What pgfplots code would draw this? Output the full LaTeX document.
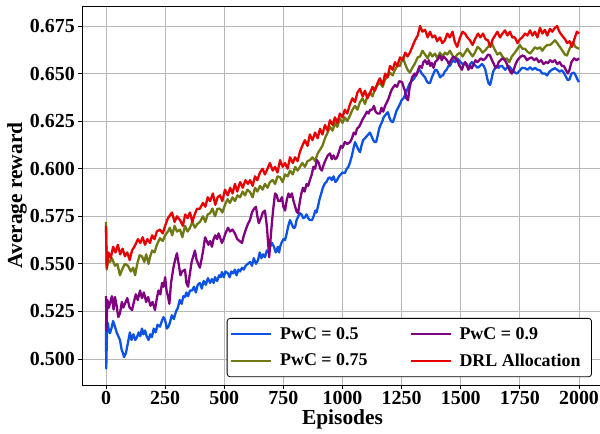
\documentclass[border=0pt]{standalone}
\usepackage{fontspec}
\setmainfont{Liberation Serif}
\usepackage{pgfplots}
\pgfplotsset{compat=1.18}
\definecolor{blueC}{RGB}{12,82,228}
\definecolor{oliveC}{RGB}{112,120,18}
\definecolor{purpleC}{RGB}{128,0,128}
\definecolor{redC}{RGB}{232,0,0}
\begin{document}
\begin{tikzpicture}
\begin{axis}[
  scale only axis,
  width=520.3bp, height=379bp,
  xmin=-100, xmax=2100,
  ymin=0.48635, ymax=0.6855,
  xtick={0,250,...,2000},
  ytick={0.5,0.525,0.55,0.575,0.6,0.625,0.65,0.675},
  yticklabel style={/pgf/number format/fixed,/pgf/number format/precision=3,/pgf/number format/fixed zerofill},
  xticklabel style={/pgf/number format/1000 sep={}, yshift=1.5bp},
  /pgf/number format/assume math mode=true,
  tick label style={font=\fontsize{20}{22}\selectfont\bfseries},
  label style={font=\fontsize{21.5}{24}\selectfont\bfseries},
  xlabel={Episodes},
  ylabel={Average reward},
  xlabel style={at={(axis description cs:0.5,-0.09)}, anchor=center, inner sep=0bp},
  ylabel style={at={(axis description cs:-0.1255,0.5)}, anchor=center},
  grid=major,
  major grid style={color=black!28, line width=0.8bp},
  axis line style={black, line width=0.9bp},
  tick align=outside,
  major tick length=4bp,
  tick style={black, line width=0.8bp},
  xtick pos=bottom, ytick pos=left,
  legend columns=2,
  transpose legend,
  legend cell align=left,
  legend image code/.code={\draw[#1, line width=2bp] (0bp,0bp) -- (40bp,0bp);},
  legend style={at={(axis description cs:0.9795,0.1768)}, anchor=north east,
    draw=black, rounded corners=3bp, line width=0.8bp,
    font=\fontsize{18}{20}\selectfont\bfseries,
    /tikz/every even column/.append style={column sep=34bp},
    inner xsep=3bp, inner ysep=2.5bp,
    nodes={inner xsep=8bp, inner ysep=6.5bp}},
  every axis plot/.append style={line width=2.3bp, line join=round},
]
\addplot[blueC] coordinates {
(0,0.519)(1,0.495)(4,0.513)(8,0.519)(12,0.515)(17,0.5136)(25,0.517)(30,0.520)(38,0.517)(45,0.514)(52,0.512)(59,0.510)(66,0.505)(72,0.503)(76,0.501)(84,0.503)(92,0.508)(101,0.514)(108,0.510)(116,0.513)(124,0.510)(131,0.5115)(138,0.514)(145,0.512)(152,0.516)(158,0.513)(165,0.515)(172,0.512)(180,0.510)(187,0.513)(194,0.5115)(202,0.516)(210,0.514)(218,0.518)(228,0.517)(236,0.520)(243,0.522)(250,0.5205)(257,0.516)(264,0.517)(270,0.519)(278,0.523)(287,0.521)(296,0.525)(304,0.527)(312,0.531)(320,0.529)(327,0.533)(334,0.5326)(340,0.535)(347,0.533)(355,0.536)(364,0.536)(372,0.538)(380,0.535)(388,0.539)(397,0.540)(405,0.537)(413,0.541)(422,0.539)(431,0.5425)(440,0.540)(448,0.542)(455,0.540)(461,0.543)(470,0.541)(478,0.544)(485,0.543)(490,0.5457)(498,0.543)(505,0.546)(516,0.545)(523,0.543)(530,0.546)(538,0.545)(545,0.547)(552,0.544)(560,0.547)(567,0.546)(575,0.548)(583,0.547)(590,0.549)(600,0.550)(609,0.551)(617,0.549)(625,0.553)(634,0.550)(643,0.552)(650,0.556)(657,0.553)(664,0.555)(672,0.5535)(680,0.557)(688,0.556)(694,0.559)(702,0.561)(710,0.559)(718,0.556)(727,0.559)(732,0.556)(736,0.559)(742,0.561)(750,0.563)(757,0.5625)(764,0.566)(771,0.570)(778,0.573)(785,0.571)(792,0.569)(799,0.569)(806,0.573)(813,0.575)(820,0.5766)(827,0.576)(834,0.574)(841,0.5745)(848,0.576)(855,0.574)(862,0.573)(871,0.573)(878,0.575)(885,0.578)(890,0.577)(896,0.580)(903,0.584)(910,0.587)(917,0.590)(926,0.5924)(932,0.593)(940,0.595)(947,0.5955)(955,0.594)(962,0.596)(970,0.593)(977,0.594)(985,0.596)(993,0.597)(1000,0.598)(1010,0.5977)(1018,0.600)(1025,0.601)(1032,0.6034)(1040,0.607)(1047,0.611)(1053,0.614)(1060,0.612)(1067,0.610)(1074,0.6087)(1080,0.612)(1087,0.615)(1095,0.616)(1102,0.617)(1109,0.618)(1116,0.619)(1123,0.617)(1130,0.615)(1136,0.614)(1142,0.614)(1148,0.617)(1155,0.621)(1161,0.623)(1167,0.6245)(1174,0.627)(1180,0.628)(1186,0.629)(1192,0.6297)(1198,0.627)(1205,0.625)(1213,0.6245)(1220,0.627)(1227,0.630)(1235,0.632)(1243,0.634)(1250,0.636)(1258,0.637)(1264,0.6386)(1272,0.641)(1278,0.643)(1285,0.645)(1292,0.646)(1300,0.647)(1306,0.648)(1313,0.650)(1320,0.651)(1328,0.6517)(1335,0.650)(1342,0.649)(1349,0.648)(1356,0.646)(1364,0.645)(1370,0.645)(1378,0.648)(1385,0.650)(1392,0.652)(1399,0.6517)(1406,0.650)(1413,0.648)(1420,0.649)(1425,0.649)(1432,0.651)(1440,0.652)(1448,0.654)(1454,0.654)(1462,0.656)(1470,0.657)(1477,0.656)(1484,0.658)(1492,0.657)(1500,0.656)(1508,0.655)(1518,0.6555)(1525,0.654)(1532,0.653)(1540,0.655)(1547,0.656)(1555,0.655)(1563,0.654)(1571,0.653)(1581,0.654)(1590,0.655)(1597,0.654)(1604,0.652)(1611,0.648)(1617,0.645)(1624,0.644)(1630,0.647)(1637,0.651)(1645,0.6528)(1652,0.654)(1660,0.653)(1667,0.654)(1674,0.654)(1681,0.653)(1688,0.652)(1695,0.653)(1702,0.654)(1708,0.6533)(1716,0.652)(1723,0.651)(1730,0.6505)(1738,0.650)(1745,0.651)(1752,0.652)(1760,0.653)(1772,0.6528)(1782,0.652)(1793,0.6533)(1803,0.652)(1814,0.653)(1824,0.652)(1835,0.6517)(1845,0.650)(1856,0.650)(1865,0.649)(1875,0.651)(1885,0.652)(1898,0.6528)(1908,0.652)(1918,0.651)(1928,0.6517)(1938,0.650)(1946,0.648)(1953,0.6465)(1960,0.647)(1968,0.650)(1979,0.6505)(1986,0.649)(1993,0.647)(2000,0.6455)
};
\addlegendentry{PwC = 0.5}
\addplot[oliveC] coordinates {
(0,0.572)(3,0.547)(10,0.552)(17,0.551)(25,0.553)(38,0.549)(48,0.550)(59,0.544)(68,0.547)(80,0.550)(93,0.549)(105,0.546)(115,0.548)(123,0.544)(132,0.550)(142,0.5545)(152,0.554)(162,0.551)(170,0.555)(180,0.550)(186,0.5535)(195,0.557)(205,0.556)(215,0.560)(228,0.5635)(240,0.562)(250,0.565)(262,0.567)(270,0.569)(280,0.565)(290,0.570)(300,0.567)(313,0.568)(323,0.564)(334,0.570)(345,0.567)(355,0.569)(365,0.572)(376,0.569)(386,0.571)(397,0.572)(410,0.575)(420,0.572)(430,0.576)(440,0.5766)(450,0.579)(461,0.575)(471,0.579)(482,0.579)(492,0.577)(503,0.581)(514,0.584)(524,0.582)(535,0.585)(545,0.583)(556,0.586)(567,0.585)(578,0.588)(588,0.586)(598,0.589)(609,0.5877)(620,0.585)(630,0.590)(640,0.588)(651,0.591)(662,0.589)(672,0.592)(683,0.590)(693,0.593)(705,0.594)(715,0.592)(725,0.596)(736,0.5955)(747,0.593)(757,0.597)(768,0.596)(778,0.599)(790,0.597)(800,0.601)(810,0.599)(820,0.601)(830,0.603)(841,0.601)(852,0.604)(862,0.6045)(873,0.606)(884,0.604)(895,0.608)(905,0.610)(915,0.612)(926,0.616)(937,0.619)(947,0.622)(958,0.620)(968,0.624)(978,0.622)(989,0.6265)(1000,0.624)(1010,0.627)(1020,0.625)(1032,0.628)(1042,0.631)(1053,0.633)(1063,0.631)(1074,0.635)(1085,0.637)(1095,0.634)(1105,0.638)(1116,0.640)(1127,0.638)(1137,0.642)(1148,0.644)(1158,0.645)(1170,0.643)(1180,0.647)(1190,0.648)(1201,0.6505)(1212,0.649)(1222,0.652)(1232,0.654)(1243,0.654)(1255,0.6585)(1265,0.655)(1275,0.652)(1285,0.6505)(1295,0.653)(1305,0.655)(1318,0.6585)(1328,0.659)(1338,0.662)(1349,0.660)(1360,0.658)(1370,0.661)(1380,0.659)(1391,0.6605)(1401,0.658)(1412,0.661)(1422,0.659)(1433,0.661)(1443,0.660)(1454,0.662)(1465,0.6595)(1475,0.658)(1485,0.660)(1497,0.661)(1508,0.659)(1518,0.661)(1528,0.663)(1539,0.661)(1550,0.659)(1560,0.661)(1571,0.664)(1581,0.663)(1592,0.661)(1602,0.662)(1615,0.664)(1632,0.6657)(1642,0.663)(1655,0.660)(1666,0.661)(1676,0.659)(1687,0.6575)(1695,0.658)(1705,0.656)(1716,0.659)(1729,0.661)(1740,0.663)(1750,0.665)(1761,0.663)(1772,0.663)(1782,0.6615)(1793,0.6605)(1803,0.662)(1814,0.6638)(1824,0.663)(1835,0.6638)(1845,0.662)(1856,0.664)(1866,0.665)(1877,0.665)(1887,0.666)(1898,0.6675)(1908,0.666)(1920,0.6638)(1930,0.662)(1940,0.660)(1949,0.6595)(1960,0.663)(1974,0.6665)(1985,0.664)(2000,0.663)
};
\addlegendentry{PwC = 0.75}
\addplot[purpleC] coordinates {
(0,0.533)(2,0.515)(6,0.531)(12,0.527)(17,0.5294)(25,0.533)(32,0.526)(38,0.5326)(45,0.528)(52,0.522)(59,0.524)(67,0.530)(73,0.527)(80,0.529)(90,0.532)(100,0.527)(110,0.5257)(118,0.530)(126,0.534)(134,0.531)(144,0.536)(152,0.532)(160,0.535)(170,0.530)(178,0.5326)(188,0.528)(197,0.530)(207,0.5257)(215,0.532)(222,0.536)(230,0.534)(237,0.540)(244,0.538)(250,0.543)(256,0.536)(262,0.533)(268,0.529)(275,0.540)(285,0.548)(292,0.552)(300,0.5556)(307,0.550)(315,0.544)(322,0.546)(334,0.547)(340,0.540)(347,0.538)(355,0.545)(362,0.551)(369,0.554)(376,0.557)(383,0.552)(390,0.550)(397,0.548)(405,0.553)(412,0.558)(419,0.564)(426,0.562)(433,0.560)(440,0.562)(448,0.559)(455,0.563)(462,0.565)(470,0.563)(476,0.566)(482,0.564)(490,0.561)(497,0.563)(505,0.566)(516,0.569)(524,0.567)(535,0.568)(545,0.566)(555,0.563)(565,0.562)(575,0.561)(583,0.565)(591,0.568)(600,0.571)(609,0.573)(617,0.577)(626,0.579)(634,0.580)(640,0.575)(646,0.5714)(655,0.574)(663,0.577)(672,0.578)(680,0.570)(685,0.562)(690,0.5535)(697,0.565)(704,0.575)(710,0.582)(715,0.587)(722,0.586)(728,0.583)(736,0.583)(744,0.585)(750,0.580)(757,0.578)(765,0.584)(772,0.587)(778,0.585)(786,0.587)(793,0.583)(800,0.580)(806,0.5775)(812,0.5766)(820,0.583)(826,0.587)(833,0.590)(840,0.588)(848,0.592)(855,0.591)(862,0.594)(870,0.597)(877,0.601)(884,0.600)(892,0.6045)(900,0.603)(906,0.600)(913,0.599)(920,0.602)(930,0.605)(938,0.607)(947,0.608)(955,0.605)(962,0.607)(970,0.605)(977,0.606)(985,0.609)(993,0.612)(1000,0.611)(1010,0.614)(1020,0.613)(1032,0.614)(1040,0.616)(1048,0.619)(1055,0.618)(1061,0.621)(1070,0.622)(1078,0.624)(1085,0.626)(1095,0.628)(1103,0.630)(1110,0.629)(1117,0.631)(1125,0.631)(1133,0.633)(1140,0.630)(1148,0.629)(1158,0.629)(1165,0.632)(1172,0.630)(1180,0.633)(1188,0.635)(1195,0.637)(1203,0.640)(1210,0.642)(1222,0.644)(1230,0.643)(1240,0.646)(1252,0.6455)(1258,0.643)(1264,0.641)(1270,0.637)(1277,0.636)(1283,0.642)(1290,0.646)(1294,0.648)(1305,0.650)(1312,0.649)(1319,0.6517)(1326,0.654)(1335,0.653)(1342,0.656)(1349,0.657)(1358,0.655)(1365,0.657)(1371,0.654)(1378,0.6555)(1385,0.653)(1392,0.656)(1400,0.657)(1405,0.658)(1412,0.6595)(1420,0.657)(1428,0.659)(1435,0.658)(1442,0.657)(1450,0.655)(1458,0.657)(1466,0.6585)(1475,0.6585)(1485,0.657)(1495,0.654)(1505,0.652)(1510,0.654)(1518,0.656)(1525,0.655)(1532,0.652)(1540,0.654)(1547,0.6528)(1555,0.655)(1562,0.657)(1570,0.656)(1578,0.657)(1585,0.658)(1595,0.657)(1605,0.658)(1615,0.660)(1624,0.6595)(1632,0.657)(1640,0.655)(1647,0.653)(1653,0.6533)(1660,0.656)(1668,0.657)(1676,0.658)(1687,0.657)(1695,0.655)(1702,0.653)(1709,0.651)(1716,0.650)(1724,0.652)(1732,0.655)(1740,0.657)(1750,0.6585)(1760,0.6595)(1770,0.659)(1780,0.657)(1790,0.658)(1800,0.6585)(1810,0.657)(1820,0.658)(1830,0.656)(1840,0.657)(1850,0.655)(1860,0.656)(1869,0.6555)(1878,0.657)(1888,0.656)(1898,0.657)(1908,0.655)(1918,0.656)(1928,0.654)(1936,0.654)(1944,0.652)(1953,0.650)(1960,0.652)(1968,0.656)(1979,0.658)(1990,0.657)(2000,0.658)
};
\addlegendentry{PwC = 0.9}
\addplot[redC] coordinates {
(0,0.570)(3,0.548)(10,0.556)(20,0.553)(30,0.559)(40,0.556)(50,0.560)(60,0.555)(70,0.558)(80,0.554)(90,0.556)(100,0.552)(110,0.557)(120,0.559)(135,0.563)(145,0.561)(155,0.564)(165,0.560)(175,0.563)(186,0.561)(195,0.565)(205,0.563)(215,0.567)(228,0.568)(240,0.566)(250,0.570)(262,0.574)(279,0.577)(290,0.572)(300,0.575)(313,0.573)(325,0.570)(335,0.576)(345,0.574)(355,0.577)(365,0.572)(375,0.576)(385,0.579)(397,0.579)(410,0.582)(420,0.580)(430,0.585)(440,0.583)(452,0.587)(462,0.581)(472,0.585)(482,0.586)(492,0.583)(503,0.589)(515,0.586)(525,0.590)(535,0.587)(545,0.592)(555,0.588)(567,0.593)(578,0.590)(590,0.594)(600,0.592)(609,0.594)(620,0.591)(630,0.596)(640,0.594)(651,0.598)(662,0.600)(672,0.597)(683,0.600)(693,0.603)(705,0.599)(715,0.601)(725,0.598)(736,0.6045)(747,0.601)(757,0.603)(768,0.600)(778,0.606)(790,0.603)(799,0.606)(810,0.604)(820,0.609)(830,0.612)(841,0.615)(852,0.612)(862,0.618)(873,0.615)(884,0.619)(895,0.616)(905,0.621)(915,0.618)(926,0.623)(937,0.620)(947,0.6255)(958,0.623)(968,0.627)(978,0.624)(989,0.629)(1000,0.627)(1010,0.631)(1020,0.629)(1032,0.634)(1042,0.637)(1053,0.635)(1063,0.640)(1074,0.642)(1085,0.638)(1095,0.641)(1105,0.637)(1116,0.6397)(1127,0.643)(1137,0.641)(1148,0.645)(1158,0.6475)(1170,0.644)(1180,0.650)(1190,0.648)(1201,0.654)(1212,0.652)(1222,0.656)(1232,0.654)(1243,0.6585)(1255,0.657)(1265,0.661)(1275,0.659)(1285,0.661)(1295,0.664)(1305,0.667)(1318,0.670)(1328,0.675)(1338,0.672)(1349,0.673)(1360,0.669)(1370,0.672)(1380,0.669)(1391,0.670)(1400,0.667)(1412,0.669)(1422,0.666)(1433,0.6675)(1443,0.671)(1454,0.669)(1465,0.672)(1475,0.6665)(1485,0.664)(1497,0.669)(1508,0.672)(1518,0.671)(1528,0.669)(1539,0.6675)(1550,0.665)(1560,0.668)(1573,0.671)(1583,0.669)(1594,0.671)(1605,0.668)(1615,0.6675)(1625,0.664)(1635,0.668)(1645,0.670)(1655,0.672)(1666,0.669)(1676,0.671)(1687,0.6727)(1697,0.670)(1708,0.672)(1718,0.669)(1729,0.669)(1740,0.666)(1750,0.668)(1760,0.669)(1772,0.671)(1782,0.670)(1793,0.6727)(1803,0.670)(1814,0.672)(1824,0.669)(1835,0.674)(1845,0.671)(1856,0.673)(1866,0.670)(1877,0.6735)(1887,0.672)(1898,0.674)(1907,0.675)(1917,0.672)(1928,0.670)(1941,0.668)(1950,0.666)(1960,0.667)(1970,0.664)(1980,0.668)(1991,0.672)(2000,0.671)
};
\addlegendentry{DRL Allocation}
\end{axis}
\path (current axis.south west) ++(-82.35bp,-49bp) coordinate (bbl);
\path (current axis.south west) ++(517.65bp,385bp) coordinate (btr);
\pgfresetboundingbox
\path (bbl) rectangle (btr);
\end{tikzpicture}
\end{document}
